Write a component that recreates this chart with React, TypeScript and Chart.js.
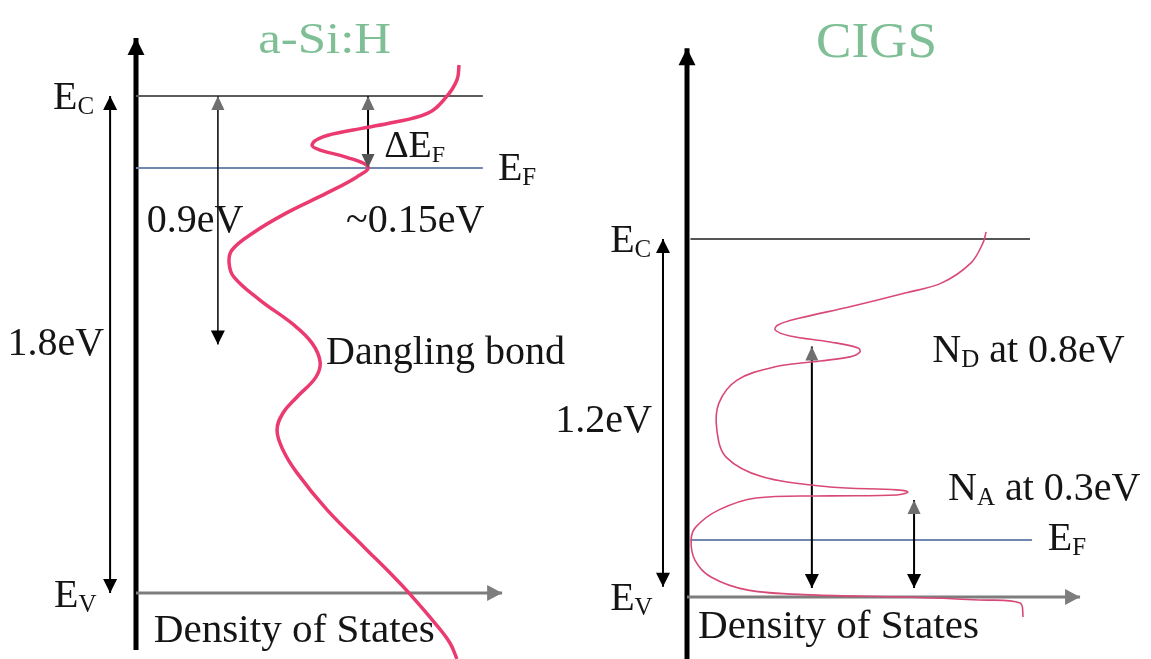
import React, { useEffect, useRef } from 'react';
import { Chart, registerables } from 'chart.js';
Chart.register(...registerables);

// ---------------- data (density of states in arbitrary units, energy in eV above Ev) -------------
// a-Si:H density-of-states curve
const ASI_DOS = [9.23, 9.17, 8.86, 8.34, 7.26, 6.2, 5.34, 5.03, 5.26, 6.0, 6.63, 6.31, 5.46, 4.29, 3.34, 2.74, 2.66, 2.8, 3.54, 4.51, 5.03, 5.26, 5.14, 4.6, 4.2, 4.03, 4.2, 4.6, 5.46, 6.51, 7.37, 7.8, 8.54, 8.97, 9.17];
const ASI_E = [1.912, 1.858, 1.796, 1.738, 1.702, 1.677, 1.652, 1.623, 1.604, 1.579, 1.543, 1.507, 1.449, 1.376, 1.304, 1.242, 1.195, 1.144, 1.061, 0.971, 0.905, 0.837, 0.782, 0.71, 0.652, 0.59, 0.518, 0.435, 0.301, 0.167, 0.058, 0, -0.109, -0.181, -0.239];
const ASI_LEVELS = [1.8, 1.539, 0]; // Ec, EF, Ev
const ASI_GAP = [1.8, 0]; // 1.8 eV arrow
const ASI_MID = [1.8, 0.9]; // 0.9 eV arrow
const ASI_DEF = [1.8, 1.539]; // ΔEF arrow

// CIGS density-of-states curve
const CIGS_DOS = [8.72, 8.63, 8.28, 7.43, 6.36, 4.72, 3.29, 2.65, 2.57, 3.0, 4.17, 4.99, 5.04, 4.75, 3.88, 2.54, 1.46, 0.93, 0.87, 1.14, 2.22, 4.17, 6.12, 6.44, 6.12, 4.17, 2.01, 0.93, 0.26, 0.12, 0.23, 0.7, 1.78, 3.64, 6.36, 8.51, 9.71, 9.8];
const CIGS_E = [1.224, 1.187, 1.12, 1.053, 1.019, 0.972, 0.935, 0.912, 0.895, 0.875, 0.855, 0.835, 0.821, 0.805, 0.791, 0.771, 0.727, 0.65, 0.56, 0.469, 0.402, 0.369, 0.359, 0.352, 0.342, 0.339, 0.332, 0.292, 0.235, 0.191, 0.124, 0.067, 0.023, 0.007, 0.0, -0.01, -0.02, -0.067];
const CIGS_LEVELS = [1.2, 0.191, 0]; // Ec, EF, Ev
const CIGS_GAP = [1.2, 0.034]; // 1.2 eV arrow
const CIGS_ND = [0.84, 0.03]; // N_D arrow
const CIGS_NA = [0.325, 0.03]; // N_A arrow

// ---------------- styles / layout ----------------
const FONT = '"Liberation Serif"';
const GREEN = '#7fbf95';
const TEXT = '#151515';
const W = 1151;
const H = 659;

type Part = { t: string; sub?: boolean };
type Label = { parts: Part[]; x: number; y: number; size: number; color?: string; align?: 'left' | 'right'; width?: number };
type Head = { color: string; len: number; w: number };

const P = (s: string): Part[] => [{ t: s }];
const E = (s: string): Part[] => [{ t: 'E' }, { t: s, sub: true }];

const pts = (xs: number[], ys: number[]) => xs.map((v, i) => ({ x: v, y: ys[i] }));
const vline = (x: number, ys: number[]) => ys.map((y) => ({ x, y }));
const hline = (y: number, x0: number, x1: number) => [{ x: x0, y }, { x: x1, y }];

function drawHead(ctx: CanvasRenderingContext2D, from: any, to: any, h: Head) {
  const ang = Math.atan2(to.y - from.y, to.x - from.x);
  ctx.save();
  ctx.translate(to.x, to.y);
  ctx.rotate(ang);
  ctx.beginPath();
  ctx.moveTo(0, 0);
  ctx.lineTo(-h.len, -h.w / 2);
  ctx.lineTo(-h.len, h.w / 2);
  ctx.closePath();
  ctx.fillStyle = h.color;
  ctx.fill();
  ctx.restore();
}

const arrowPlugin = {
  id: 'arrowHeads',
  afterDatasetsDraw(chart: any) {
    const ctx = chart.ctx;
    chart.data.datasets.forEach((ds: any, i: number) => {
      const el = chart.getDatasetMeta(i).data;
      if (el.length < 2) return;
      if (ds.headEnd) drawHead(ctx, el[el.length - 2], el[el.length - 1], ds.headEnd);
      if (ds.headStart) drawHead(ctx, el[1], el[0], ds.headStart);
    });
  },
};

function makeTextPlugin(labels: Label[]) {
  return {
    id: 'textLabels',
    afterDraw(chart: any) {
      const ctx: CanvasRenderingContext2D = chart.ctx;
      const sx = chart.scales.x;
      const sy = chart.scales.y;
      labels.forEach((l) => {
        const px = sx.getPixelForValue(l.x);
        const py = sy.getPixelForValue(l.y);
        const subSize = Math.round(l.size * 0.62);
        const fontFor = (p: Part) => `${p.sub ? subSize : l.size}px ${FONT}`;
        let w = 0;
        const widths = l.parts.map((p) => {
          ctx.font = fontFor(p);
          const m = ctx.measureText(p.t).width;
          w += m;
          return m;
        });
        const k = l.width ? l.width / w : 1;
        const total = w * k;
        const x0 = l.align === 'right' ? px - total : px;
        ctx.save();
        ctx.translate(x0, py);
        ctx.scale(k, 1);
        ctx.fillStyle = l.color || TEXT;
        ctx.textBaseline = 'alphabetic';
        ctx.textAlign = 'left';
        let cx = 0;
        l.parts.forEach((p, i) => {
          ctx.font = fontFor(p);
          ctx.fillText(p.t, cx, p.sub ? l.size * 0.13 : 0);
          cx += widths[i];
        });
        ctx.restore();
      });
    },
  };
}

const BLACK_HEAD: Head = { color: '#000', len: 14, w: 14 };
const GRAY_HEAD: Head = { color: '#6f6f6f', len: 14, w: 13 };
const AXIS_HEAD: Head = { color: '#000', len: 17, w: 17 };
const XAXIS_HEAD: Head = { color: '#7d7d7d', len: 15, w: 16 };

function lineDs(data: any[], color: string, width: number, extra: any = {}) {
  return { data, borderColor: color, borderWidth: width, showLine: true, pointRadius: 0, fill: false, tension: 0, borderCapStyle: 'butt', ...extra };
}

function asiConfig() {
  const labels: Label[] = [
    { parts: P('a-Si:H'), x: 3.49, y: 1.956, size: 44, color: GREEN, width: 133 },
    { parts: E('C'), x: -2.37, y: 1.753, size: 40 },
    { parts: E('F'), x: 10.34, y: 1.496, size: 40 },
    { parts: E('V'), x: -2.34, y: -0.051, size: 40 },
    { parts: P('1.8eV'), x: -0.91, y: 0.862, size: 40, align: 'right' },
    { parts: P('0.9eV'), x: 0.31, y: 1.307, size: 40 },
    { parts: P('~0.15eV'), x: 6.0, y: 1.307, size: 40 },
    { parts: [{ t: 'ΔE' }, { t: 'F', sub: true }], x: 7.09, y: 1.579, size: 38 },
    { parts: P('Dangling bond'), x: 5.43, y: 0.829, size: 40 },
    { parts: P('Density of States'), x: 0.51, y: -0.177, size: 40, width: 281 },
  ];
  const datasets = [
    lineDs(pts(ASI_DOS, ASI_E), '#ea3a70', 3.5, { tension: 0.4 }),
    lineDs(vline(-0.74, ASI_GAP), '#000', 2, { headStart: BLACK_HEAD, headEnd: BLACK_HEAD }),
    lineDs(vline(2.34, ASI_MID), '#111', 1.6, { headStart: GRAY_HEAD, headEnd: BLACK_HEAD }),
    lineDs(vline(6.63, ASI_DEF), '#000', 2, { headStart: GRAY_HEAD, headEnd: { ...GRAY_HEAD, color: '#555' } }),
    lineDs(hline(ASI_LEVELS[0], 0, 9.91), '#5c5c5c', 2),
    lineDs(hline(ASI_LEVELS[1], 0, 9.91), '#7088b0', 2),
    lineDs(hline(ASI_LEVELS[2], 0, 10.46), '#7d7d7d', 3, { headEnd: XAXIS_HEAD }),
    lineDs(vline(0, [-0.206, 2.01]), '#000', 5, { headEnd: AXIS_HEAD }),
  ];
  // axis origin at 136 px, 35 px per DOS unit; Ev at 593 px, 276.1 px per eV
  return build(datasets, labels, { xmin: -136 / 35, xmax: (W - 136) / 35, ymin: -66 / 276.1, ymax: 593 / 276.1 });
}

function cigsConfig() {
  const labels: Label[] = [
    { parts: P('CIGS'), x: 3.76, y: 1.81, size: 50, color: GREEN, width: 121 },
    { parts: E('C'), x: -2.24, y: 1.157, size: 40 },
    { parts: P('1.2eV'), x: -1.02, y: 0.553, size: 40, align: 'right' },
    { parts: E('V'), x: -2.24, y: -0.044, size: 40 },
    { parts: E('F'), x: 10.52, y: 0.158, size: 40 },
    { parts: [{ t: 'N' }, { t: 'D', sub: true }, { t: ' at 0.8eV' }], x: 7.15, y: 0.788, size: 40 },
    { parts: [{ t: 'N' }, { t: 'A', sub: true }, { t: ' at 0.3eV' }], x: 7.61, y: 0.325, size: 40 },
    { parts: P('Density of States'), x: 0.32, y: -0.137, size: 40, width: 281 },
  ];
  const datasets = [
    lineDs(pts(CIGS_DOS, CIGS_E), '#d84a76', 1.6, { tension: 0.35 }),
    lineDs(vline(-0.7, CIGS_GAP), '#000', 2, { headStart: BLACK_HEAD, headEnd: BLACK_HEAD }),
    lineDs(vline(3.64, CIGS_ND), '#000', 2, { headStart: GRAY_HEAD, headEnd: BLACK_HEAD }),
    lineDs(vline(6.62, CIGS_NA), '#000', 2, { headStart: GRAY_HEAD, headEnd: BLACK_HEAD }),
    lineDs(hline(CIGS_LEVELS[0], 0.1, 10), '#555', 2),
    lineDs(hline(CIGS_LEVELS[1], 0.1, 10.06), '#7088b0', 2),
    lineDs(hline(CIGS_LEVELS[2], 0, 11.46), '#7d7d7d', 3, { headEnd: XAXIS_HEAD }),
    lineDs(vline(0, [-0.21, 1.84]), '#000', 5, { headEnd: AXIS_HEAD }),
  ];
  // axis origin at 687 px, 34.3 px per DOS unit; Ev at 597 px, 298.3 px per eV
  return build(datasets, labels, { xmin: -687 / 34.3, xmax: (W - 687) / 34.3, ymin: -62 / 298.3, ymax: 597 / 298.3 });
}

function build(datasets: any[], labels: Label[], r: { xmin: number; xmax: number; ymin: number; ymax: number }): any {
  return {
    type: 'scatter',
    data: { datasets },
    options: {
      responsive: false,
      animation: false,
      events: [],
      layout: { padding: 0 },
      plugins: { legend: { display: false }, tooltip: { enabled: false } },
      scales: {
        x: { type: 'linear', display: false, min: r.xmin, max: r.xmax },
        y: { type: 'linear', display: false, min: r.ymin, max: r.ymax },
      },
    },
    plugins: [arrowPlugin, makeTextPlugin(labels)],
  };
}

function Panel({ make }: { make: () => any }) {
  const ref = useRef<HTMLCanvasElement>(null);
  useEffect(() => {
    const chart = new Chart(ref.current as HTMLCanvasElement, make());
    const t = setTimeout(() => chart.draw(), 200);
    return () => {
      clearTimeout(t);
      chart.destroy();
    };
  }, []);
  return <canvas ref={ref} width={W} height={H} style={{ position: 'absolute', left: 0, top: 0, width: W, height: H }} />;
}

export default function App() {
  return (
    <div style={{ position: 'fixed', left: 0, top: 0, width: W, height: H, background: '#fff', overflow: 'hidden' }}>
      <Panel make={asiConfig} />
      <Panel make={cigsConfig} />
    </div>
  );
}
